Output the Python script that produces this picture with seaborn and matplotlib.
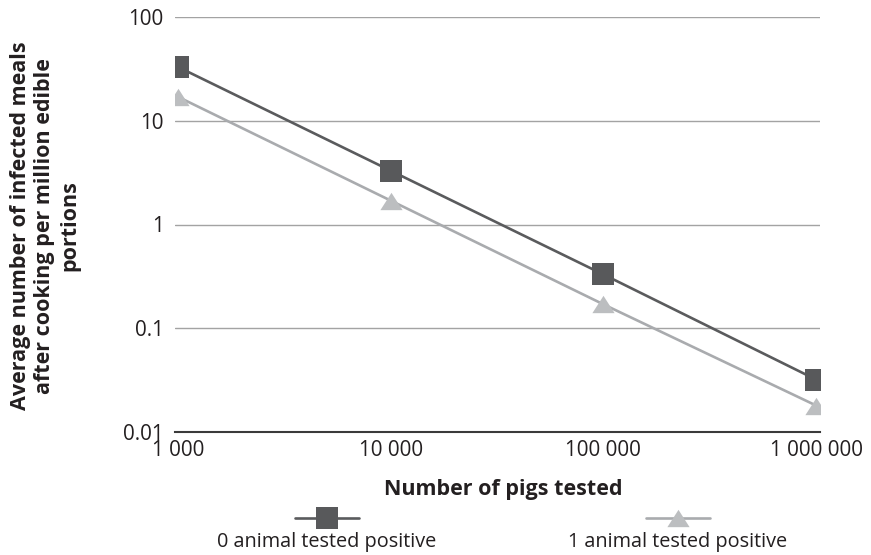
import matplotlib
matplotlib.use("Agg")
import matplotlib.pyplot as plt
from matplotlib.lines import Line2D
from matplotlib.ticker import FixedLocator, FixedFormatter, NullLocator
import seaborn as sns
import pandas as pd

# Data
pigs_tested = [1000, 10000, 100000, 1000000]
zero_positive = [33, 3.3, 0.33, 0.032]
one_positive = [17, 1.7, 0.17, 0.018]
series_names = ["0 animal tested positive", "1 animal tested positive"]
x_tick_values = [1000, 10000, 100000, 1000000]
x_tick_labels = ["1 000", "10 000", "100 000", "1 000 000"]
y_tick_values = [0.01, 0.1, 1, 10, 100]
y_tick_labels = ["0.01", "0.1", "1", "10", "100"]

df = pd.DataFrame({
    "pigs": pigs_tested * 2,
    "meals": zero_positive + one_positive,
    "series": [series_names[0]] * 4 + [series_names[1]] * 4,
})

sns.set_theme(style="white")
plt.rcParams["font.family"] = ["Open Sans", "DejaVu Sans"]
text_color = "#231f20"

W, H = 871, 555
fig = plt.figure(figsize=(W / 100, H / 100), dpi=100)
ax = fig.add_axes([175 / W, 1 - 432 / H, (820 - 175) / W, (432 - 17) / H])

line_colors = {series_names[0]: "#5a5b5d", series_names[1]: "#a9abae"}
marker_colors = ["#58595b", "#bcbec0"]
tri = [(-1, -0.78), (1, -0.78), (0, 0.78)]

sns.lineplot(data=df, x="pigs", y="meals", hue="series", style="series",
             palette=line_colors, dashes=False,
             markers={series_names[0]: "s", series_names[1]: tri},
             linewidth=1.9, ax=ax, legend=False, zorder=3)

sizes = [15.2, 16.0]
for ln, mc, ms in zip(ax.lines, marker_colors, sizes):
    ln.set_markerfacecolor(mc)
    ln.set_markeredgewidth(0)
    ln.set_markersize(ms)

ax.set_xscale("log")
ax.set_yscale("log")
ax.set_xlim(968, 1.043e6)
ax.set_ylim(0.01, 100)

ax.xaxis.set_major_locator(FixedLocator(x_tick_values))
ax.xaxis.set_major_formatter(FixedFormatter(x_tick_labels))
ax.xaxis.set_minor_locator(NullLocator())
ax.yaxis.set_major_locator(FixedLocator(y_tick_values))
ax.yaxis.set_major_formatter(FixedFormatter(y_tick_labels))
ax.yaxis.set_minor_locator(NullLocator())

ax.tick_params(axis="both", length=0, labelsize=13, colors=text_color)
ax.tick_params(axis="x", pad=6)
ax.tick_params(axis="y", pad=8)

ax.grid(axis="y", color="#a3a3a3", linewidth=1.0)
ax.grid(axis="x", visible=False)
for side in ["left", "right", "top"]:
    ax.spines[side].set_visible(False)
ax.spines["bottom"].set_color("#3a3a3a")
ax.spines["bottom"].set_linewidth(1.5)
ax.spines["bottom"].set_zorder(4)

ax.set_xlabel("")
ax.set_ylabel("")

renderer = fig.canvas.get_renderer()


def fit_width(txt, target_px, vertical=False):
    """Scale a text's font size so its extent along the reading direction hits target_px."""
    for _ in range(3):
        bb = txt.get_window_extent(renderer=renderer)
        span = bb.height if vertical else bb.width
        txt.set_fontsize(txt.get_fontsize() * target_px / span)


# Tick label size chosen so that "10 000" spans about 65 px
fig.canvas.draw()
probe = fig.text(0, 0, x_tick_labels[1], fontsize=13)
fit_width(probe, 64)
tick_size = probe.get_fontsize()
probe.remove()
ax.tick_params(axis="both", labelsize=tick_size)

# Axis titles
ytitle = fig.text(45 / W, 1 - 226 / H,
                  "Average number of infected meals\nafter cooking per million edible\nportions",
                  rotation=90, ha="center", va="center", ma="center",
                  fontsize=15, fontweight="bold", color=text_color, linespacing=1.22)
fit_width(ytitle, 367, vertical=True)

xtitle = fig.text(503 / W, 1 - 490 / H, "Number of pigs tested",
                  ha="center", va="center", fontsize=15, fontweight="bold", color=text_color)
fit_width(xtitle, 238)

# Legend: handle above its label
legend_x = [327, 678]
legend_markers = ["s", tri]
for xc, name, lc, mc, mk, ms in zip(legend_x, series_names, line_colors.values(),
                                    marker_colors, legend_markers, sizes):
    fig.add_artist(Line2D([(xc - 32) / W, (xc + 32) / W], [1 - 518 / H] * 2,
                          transform=fig.transFigure, color=lc, linewidth=1.9))
    fig.add_artist(Line2D([xc / W], [1 - 518 / H], transform=fig.transFigure,
                          marker=mk, markersize=ms, markerfacecolor=mc,
                          markeredgewidth=0, linestyle="none"))
    lbl = fig.text(xc / W, 1 - 542 / H, name, ha="center", va="center",
                   fontsize=14, color=text_color)
    fit_width(lbl, 219)

fig.savefig("out.png", dpi=100, facecolor="white")
